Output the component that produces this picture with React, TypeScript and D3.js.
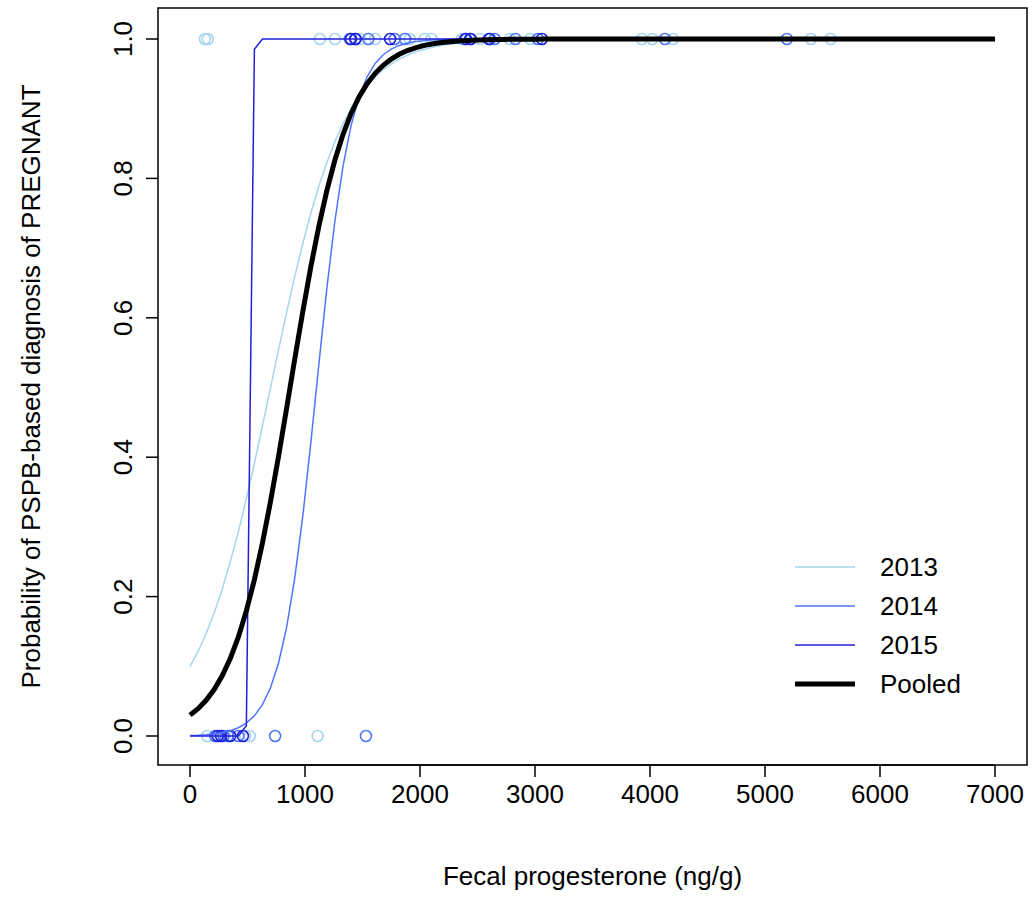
import * as d3 from "d3";

// Observed diagnoses (1 = pregnant, 0 = not), by year, fecal progesterone in ng/g
const obs2013Pos = [130, 155, 1130, 1260, 1480, 1610, 1910, 2040, 2100, 2365, 2520, 2780, 2960, 3930, 4020, 4200, 5400, 5570];
const obs2014Pos = [1390, 1435, 1550, 1780, 1870, 2390, 2435, 2610, 2650, 2830, 3025, 4130, 5190];
const obs2015Pos = [1400, 1440, 1740, 2400, 2440, 2600, 3060];
const obs2013Neg = [150, 250, 300, 480, 520, 1110];
const obs2014Neg = [220, 290, 330, 420, 740, 1530];
const obs2015Neg = [240, 270, 350, 460];

// fitted logistic models: [intercept, slope]
const fits = [
  { name: "2013", a: -2.2, b: 0.00314, color: "#a6d6ee", width: 1.5 },
  { name: "2014", a: -7.15, b: 0.0065, color: "#4f76ff", width: 1.5 },
  { name: "2015", a: -63, b: 0.12, color: "#2020d8", width: 1.5 },
  { name: "Pooled", a: -3.48, b: 0.004, color: "#000000", width: 5 },
];

const xTicks = [0, 1000, 2000, 3000, 4000, 5000, 6000, 7000];
const yTicks = [0, 0.2, 0.4, 0.6, 0.8, 1.0];

const W = 1032, H = 917;
const box = { left: 158, right: 1027, top: 8, bottom: 765 };
const x = d3.scaleLinear().domain([0, 7000]).range([190, 995]);
const y = d3.scaleLinear().domain([0, 1]).range([736, 39]);
const font = "Arial, 'Liberation Sans', sans-serif";
const fs = 26;

const grid = d3.range(0, 101).map((i) => i * 70);
const line = d3.line<number[]>().x((d) => x(d[0])).y((d) => y(d[1]));

export default function App() {
  const pts: { v: number; p: number; c: string }[] = [];
  const add = (arr: number[], p: number, c: string) => arr.forEach((v) => pts.push({ v, p, c }));
  add(obs2013Pos, 1, fits[0].color); add(obs2013Neg, 0, fits[0].color);
  add(obs2014Pos, 1, fits[1].color); add(obs2014Neg, 0, fits[1].color);
  add(obs2015Pos, 1, fits[2].color); add(obs2015Neg, 0, fits[2].color);

  return (
    <svg width={W} height={H} style={{ position: "absolute", left: 0, top: 0, background: "#fff" }} fontFamily={font}>
      <rect x={box.left} y={box.top} width={box.right - box.left} height={box.bottom - box.top} fill="none" stroke="#000" strokeWidth={1.5} />
      {pts.map((d, i) => (
        <circle key={i} cx={x(d.v)} cy={y(d.p)} r={5.5} fill="none" stroke={d.c} strokeWidth={1.6} />
      ))}
      {fits.map((f) => (
        <path key={f.name} d={line(grid.map((v) => [v, 1 / (1 + Math.exp(-(f.a + f.b * v)))])) ?? ""}
          fill="none" stroke={f.color} strokeWidth={f.width} />
      ))}
      {xTicks.map((t) => (
        <g key={t}>
          <line x1={x(t)} x2={x(t)} y1={box.bottom} y2={box.bottom + 12} stroke="#000" strokeWidth={1.5} />
          <text x={x(t)} y={803} textAnchor="middle" fontSize={fs}>{t}</text>
        </g>
      ))}
      <line x1={x(0)} x2={x(7000)} y1={box.bottom} y2={box.bottom} stroke="#000" strokeWidth={1.5} />
      {yTicks.map((t) => (
        <g key={t}>
          <line x1={box.left - 12} x2={box.left} y1={y(t)} y2={y(t)} stroke="#000" strokeWidth={1.5} />
          <text transform={`translate(132,${y(t)}) rotate(-90)`} textAnchor="middle" fontSize={fs}>{t.toFixed(1)}</text>
        </g>
      ))}
      <text x={(box.left + box.right) / 2} y={885} textAnchor="middle" fontSize={fs}>Fecal progesterone (ng/g)</text>
      <text transform={`translate(40,${(box.top + box.bottom) / 2}) rotate(-90)`} textAnchor="middle" fontSize={fs}>
        Probability of PSPB-based diagnosis of PREGNANT
      </text>
      {fits.map((f, i) => (
        <g key={f.name} transform={`translate(0,${567 + i * 39})`}>
          <line x1={795} x2={855} y1={0} y2={0} stroke={f.color} strokeWidth={f.width} />
          <text x={880} y={9} fontSize={fs}>{f.name}</text>
        </g>
      ))}
    </svg>
  );
}
